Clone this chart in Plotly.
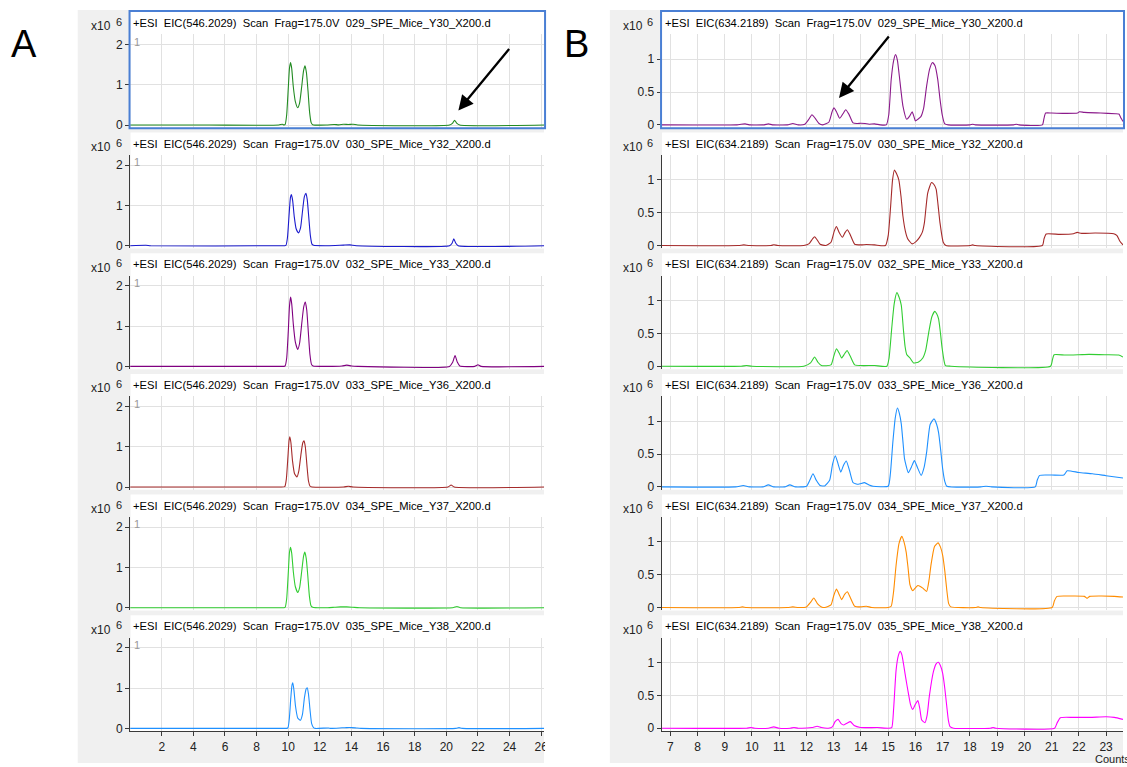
import plotly.graph_objects as go

W, H = 1127, 767
P = 121.3  # row pitch in px

FILES = ["029_SPE_Mice_Y30_X200.d", "030_SPE_Mice_Y32_X200.d", "032_SPE_Mice_Y33_X200.d",
         "033_SPE_Mice_Y36_X200.d", "034_SPE_Mice_Y37_X200.d", "035_SPE_Mice_Y38_X200.d"]
LEFT_MZ = "546.2029"
RIGHT_MZ = "634.2189"
LEFT_COLORS = ["#228b22", "#1a1acd", "#800080", "#a52a2a", "#32cd32", "#1e90ff"]
RIGHT_COLORS = ["#8b1a8b", "#a52a2a", "#32cd32", "#1e90ff", "#ff8c00", "#ff00ff"]
LEFT_XTICKS = list(range(2, 27, 2))
RIGHT_XTICKS = list(range(7, 24))
LEFT_YTICKS = [0, 1, 2]
RIGHT_YTICKS = [0, 0.5, 1]
LEFT_XRANGE = [0, 26.18]
RIGHT_XRANGE = [6.683, 23.62]
LEFT_YRANGE = [-0.069, 2.252]
RIGHT_YRANGE = [-0.045, 1.379]

# Panel A traces (time min, counts x10^6)
A1 = [(0,0),(5,0),(9.4,0),(9.62,0.02),(9.7,0.005),(9.8,0.01),(9.9,0.25),(10.0,0.9),(10.08,1.42),(10.15,1.55),(10.22,1.4),(10.32,0.95),(10.45,0.58),(10.6,0.43),(10.72,0.55),(10.85,0.95),(10.97,1.35),(11.06,1.47),(11.15,1.3),(11.25,0.85),(11.35,0.32),(11.45,0.06),(11.55,0.01),(12.4,0),(12.9,0.015),(13.2,0.005),(13.5,0.02),(13.8,0.015),(14.1,0.02),(14.4,0),(20.2,0),(20.4,0.05),(20.52,0.12),(20.65,0.05),(20.85,0),(26.2,0)]
A2 = [(0,0),(1.0,0.01),(1.3,0),(9.5,0),(9.85,0.01),(9.95,0.2),(10.05,0.75),(10.14,1.2),(10.2,1.27),(10.28,1.12),(10.38,0.72),(10.5,0.42),(10.65,0.32),(10.78,0.45),(10.9,0.85),(11.02,1.22),(11.12,1.3),(11.2,1.15),(11.3,0.7),(11.4,0.25),(11.5,0.04),(11.6,0.01),(12.5,0),(13.5,0.015),(13.9,0.02),(14.3,0),(20.2,0),(20.36,0.06),(20.47,0.17),(20.6,0.06),(20.75,0),(26.2,0)]
A3 = [(0,0),(9.5,0),(9.8,0.01),(9.9,0.2),(10.0,0.85),(10.08,1.5),(10.15,1.72),(10.22,1.55),(10.32,1.05),(10.45,0.6),(10.6,0.42),(10.72,0.58),(10.85,1.05),(10.98,1.48),(11.08,1.6),(11.17,1.4),(11.27,0.85),(11.37,0.3),(11.47,0.05),(11.57,0.01),(12.5,0),(13.4,0.01),(13.7,0.03),(14.0,0.01),(14.4,0),(20.2,0),(20.4,0.1),(20.55,0.27),(20.7,0.1),(20.85,0.01),(21.8,0),(22.0,0.04),(22.2,0),(26.2,0)]
A4 = [(0,0),(9.5,0),(9.78,0.01),(9.88,0.2),(9.98,0.75),(10.05,1.15),(10.1,1.25),(10.17,1.1),(10.27,0.65),(10.4,0.33),(10.55,0.25),(10.67,0.4),(10.8,0.8),(10.92,1.1),(11.0,1.15),(11.08,1.0),(11.18,0.55),(11.28,0.15),(11.38,0.02),(11.5,0),(13.5,0),(13.8,0.02),(14.1,0),(20.1,0),(20.3,0.05),(20.5,0),(26.2,0)]
A5 = [(0,0),(9.5,0),(9.8,0.01),(9.9,0.22),(10.0,0.85),(10.08,1.38),(10.15,1.5),(10.22,1.35),(10.32,0.9),(10.45,0.52),(10.6,0.38),(10.72,0.5),(10.85,0.9),(10.97,1.28),(11.05,1.38),(11.14,1.22),(11.24,0.78),(11.34,0.28),(11.44,0.05),(11.55,0.01),(12.5,0),(12.9,0.01),(13.3,0.02),(13.7,0.02),(14.1,0.01),(14.5,0),(20.4,0),(20.67,0.03),(20.9,0),(26.2,0)]
A6 = [(0,0),(9.6,0),(9.97,0.01),(10.07,0.25),(10.16,0.75),(10.24,1.08),(10.29,1.13),(10.36,0.95),(10.46,0.55),(10.6,0.26),(10.76,0.2),(10.9,0.35),(11.02,0.75),(11.13,0.98),(11.2,1.01),(11.28,0.85),(11.38,0.45),(11.48,0.12),(11.6,0.02),(11.7,0),(12.55,0.01),(12.7,0),(13.4,0.015),(13.7,0.02),(14.0,0.02),(14.3,0.01),(14.6,0),(20.6,0),(20.8,0.02),(21.0,0),(26.2,0)]

# Panel B traces
B1 = [(6.68,0),(9.45,0),(9.6,0.01),(9.75,0.015),(9.9,0),(10.45,0),(10.6,0.015),(10.75,0),(11.3,0),(11.5,0.02),(11.7,0),(11.94,0.01),(12.08,0.08),(12.2,0.155),(12.32,0.1),(12.46,0.02),(12.6,0),(12.82,0.04),(12.94,0.2),(13.01,0.26),(13.1,0.2),(13.22,0.1),(13.34,0.17),(13.44,0.23),(13.56,0.16),(13.71,0.03),(13.85,0.02),(14.0,0.025),(14.15,0.02),(14.3,0.01),(14.5,0.015),(14.7,0),(14.93,0),(15.02,0.15),(15.11,0.69),(15.2,0.98),(15.27,1.07),(15.34,0.98),(15.41,0.74),(15.54,0.29),(15.68,0.085),(15.8,0.14),(15.88,0.2),(15.95,0.12),(16.0,0.06),(16.1,0.09),(16.2,0.125),(16.3,0.25),(16.41,0.59),(16.52,0.85),(16.63,0.95),(16.72,0.9),(16.82,0.69),(16.9,0.4),(16.98,0.16),(17.07,0.02),(17.2,0),(18.0,0),(18.1,0.01),(18.2,0),(19.6,0),(19.7,0.01),(19.8,0),(20.66,0),(20.72,0.1),(20.78,0.18),(21.0,0.18),(21.5,0.175),(21.95,0.18),(22.02,0.2),(22.2,0.19),(22.8,0.18),(23.34,0.17),(23.47,0.165),(23.55,0.1),(23.62,0.05)]
B2 = [(6.68,0),(9.5,0),(9.7,0.01),(9.9,0),(10.7,0),(10.8,0.012),(10.95,0),(11.9,0),(12.1,0.03),(12.22,0.1),(12.3,0.135),(12.4,0.08),(12.5,0.02),(12.7,0),(12.9,0.05),(13.02,0.22),(13.1,0.29),(13.2,0.2),(13.32,0.126),(13.42,0.2),(13.5,0.24),(13.6,0.17),(13.77,0.02),(14.0,0.01),(14.2,0.015),(14.5,0.01),(14.9,0),(15.0,0.15),(15.09,0.6),(15.16,1.0),(15.23,1.15),(15.3,1.1),(15.39,1.0),(15.47,0.75),(15.54,0.45),(15.63,0.22),(15.72,0.1),(15.88,0.025),(16.02,0.06),(16.15,0.125),(16.25,0.2),(16.33,0.35),(16.45,0.8),(16.59,0.96),(16.68,0.93),(16.76,0.86),(16.83,0.62),(16.9,0.35),(17.02,0.05),(17.12,0),(18.0,0),(18.1,0.01),(18.2,0),(20.66,0),(20.72,0.1),(20.8,0.175),(21.3,0.17),(21.8,0.18),(21.94,0.2),(22.1,0.185),(22.6,0.19),(23.28,0.18),(23.4,0.15),(23.5,0.07),(23.62,0.01)]
B3 = [(6.68,0),(9.6,0),(9.8,0.01),(10.0,0),(11.9,0),(12.15,0.05),(12.3,0.14),(12.42,0.06),(12.55,0.01),(12.9,0.02),(13.0,0.15),(13.1,0.265),(13.2,0.2),(13.29,0.125),(13.4,0.19),(13.49,0.24),(13.6,0.16),(13.77,0.02),(14.0,0.01),(14.5,0.01),(14.95,0),(15.03,0.12),(15.13,0.58),(15.22,0.95),(15.32,1.12),(15.4,1.05),(15.48,0.93),(15.56,0.55),(15.62,0.3),(15.68,0.18),(15.8,0.125),(15.93,0.05),(16.1,0.06),(16.27,0.125),(16.38,0.25),(16.49,0.52),(16.6,0.75),(16.71,0.835),(16.78,0.8),(16.85,0.72),(16.92,0.5),(16.98,0.275),(17.1,0.01),(17.3,0),(20.96,0),(21.03,0.1),(21.09,0.175),(21.5,0.17),(22.0,0.175),(22.37,0.18),(23.0,0.175),(23.46,0.17),(23.62,0.14)]
B4 = [(6.68,0),(9.4,0),(9.68,0.02),(9.9,0),(10.4,0),(10.6,0.03),(10.8,0),(11.2,0),(11.39,0.03),(11.6,0),(12.0,0.01),(12.12,0.1),(12.24,0.2),(12.36,0.1),(12.5,0.02),(12.67,0.015),(12.85,0.1),(12.96,0.35),(13.06,0.475),(13.16,0.35),(13.26,0.225),(13.36,0.33),(13.46,0.395),(13.58,0.25),(13.71,0.065),(13.9,0.04),(14.13,0.065),(14.3,0.03),(14.44,0.01),(15.0,0.01),(15.08,0.2),(15.17,0.675),(15.26,1.05),(15.34,1.2),(15.41,1.12),(15.48,0.96),(15.55,0.65),(15.6,0.425),(15.74,0.215),(15.85,0.3),(15.96,0.4),(16.07,0.3),(16.21,0.175),(16.32,0.3),(16.41,0.525),(16.54,0.95),(16.68,1.035),(16.78,0.95),(16.85,0.825),(16.93,0.55),(17.0,0.275),(17.08,0.08),(17.15,0.01),(18.4,0),(18.59,0.01),(18.8,0),(20.4,0),(20.47,0.1),(20.56,0.175),(21.0,0.18),(21.45,0.18),(21.57,0.245),(22.0,0.22),(22.5,0.2),(23.0,0.17),(23.62,0.135)]
B5 = [(6.68,0),(9.5,0),(9.65,0.01),(9.8,0),(11.3,0),(11.5,0.01),(11.7,0),(12.0,0.01),(12.15,0.08),(12.27,0.145),(12.4,0.06),(12.55,0.01),(12.67,0),(12.9,0.04),(13.0,0.18),(13.1,0.28),(13.2,0.2),(13.29,0.12),(13.4,0.2),(13.5,0.24),(13.6,0.16),(13.77,0.02),(14.0,0.01),(14.2,0.02),(14.4,0),(15.0,0),(15.11,0.02),(15.2,0.25),(15.29,0.645),(15.4,0.98),(15.5,1.085),(15.58,1.0),(15.66,0.845),(15.73,0.6),(15.8,0.345),(15.9,0.255),(16.0,0.3),(16.09,0.335),(16.18,0.32),(16.27,0.295),(16.41,0.245),(16.5,0.42),(16.57,0.645),(16.7,0.93),(16.83,0.985),(16.92,0.92),(17.0,0.795),(17.08,0.55),(17.15,0.27),(17.22,0.06),(17.3,0.01),(18.2,0),(18.3,0.01),(18.4,0),(21.02,0),(21.1,0.1),(21.2,0.17),(21.7,0.175),(22.2,0.17),(22.3,0.14),(22.4,0.17),(22.8,0.175),(23.3,0.17),(23.62,0.16)]
B6 = [(6.68,0),(9.8,0),(9.95,0.01),(10.1,0),(10.6,0),(10.8,0.02),(11.0,0),(11.4,0),(11.54,0.01),(11.7,0),(12.2,0.01),(12.39,0.03),(12.55,0.01),(12.8,0),(12.95,0.02),(13.05,0.1),(13.16,0.135),(13.27,0.07),(13.37,0.05),(13.5,0.08),(13.61,0.1),(13.75,0.04),(13.98,0.01),(14.6,0.01),(15.0,0),(15.13,0.01),(15.2,0.3),(15.29,0.885),(15.37,1.1),(15.44,1.17),(15.5,1.12),(15.56,0.985),(15.65,0.75),(15.74,0.535),(15.82,0.36),(15.9,0.285),(15.98,0.35),(16.09,0.42),(16.16,0.3),(16.23,0.125),(16.35,0.085),(16.43,0.2),(16.51,0.485),(16.66,0.86),(16.76,0.98),(16.84,1.005),(16.92,0.95),(17.0,0.835),(17.08,0.6),(17.15,0.335),(17.21,0.12),(17.27,0.025),(17.4,0),(18.75,0),(18.85,0.01),(18.95,0),(21.11,0),(21.2,0.08),(21.32,0.16),(21.8,0.165),(22.4,0.165),(23.0,0.175),(23.3,0.165),(23.62,0.135)]

LEFT_TRACES = [A1, A2, A3, A4, A5, A6]
RIGHT_TRACES = [B1, B2, B3, B4, B5, B6]

FONT = "Liberation Sans, Arial, sans-serif"
GRID = "#e1e1e1"
AXC = "#3a3a3a"
PANEL_BG = "#f0f0f0"
SEL = "#4a7fd4"


def fx(px):
    return px / W


def fy(py):
    return 1 - py / H


fig = go.Figure()
layout = dict(width=W, height=H, margin=dict(l=0, r=0, t=0, b=0), autosize=False,
              paper_bgcolor="white", plot_bgcolor="rgba(0,0,0,0)", showlegend=False,
              hovermode=False, font=dict(family=FONT, size=12, color="#222"))
shapes = []
annotations = []

columns = [
    dict(x0=130.6, x1=546, xr=LEFT_XRANGE, yr=LEFT_YRANGE, xt=LEFT_XTICKS, yt=LEFT_YTICKS,
         traces=LEFT_TRACES, colors=LEFT_COLORS, mz=LEFT_MZ, panel=(78, 546), letter=("A", 24)),
    dict(x0=664, x1=1127, xr=RIGHT_XRANGE, yr=RIGHT_YRANGE, xt=RIGHT_XTICKS, yt=RIGHT_YTICKS,
         traces=RIGHT_TRACES, colors=RIGHT_COLORS, mz=RIGHT_MZ, panel=(612, 1127), letter=("B", 579)),
]

for c, col in enumerate(columns):
    shapes.append(dict(type="rect", xref="paper", yref="paper", x0=fx(col["panel"][0]), x1=fx(col["panel"][1]),
                       y0=fy(767), y1=fy(10), fillcolor=PANEL_BG, line=dict(width=0), layer="below"))
    annotations.append(dict(text=col["letter"][0], x=fx(col["letter"][1]), y=fy(44), xref="paper", yref="paper",
                            showarrow=False, xanchor="center", yanchor="middle",
                            font=dict(size=38, color="black", family=FONT)))
    for i in range(6):
        n = c * 6 + i + 1
        top = 34.5 + i * P
        bot = 128.5 + i * P
        last = (i == 5)
        xa = dict(domain=[fx(col["x0"]), fx(col["x1"])], range=col["xr"], anchor=f"y{n}",
                  tickmode="array", tickvals=col["xt"], showgrid=True, gridcolor=GRID, gridwidth=1,
                  zeroline=False, showline=last, linecolor=AXC, linewidth=1,
                  ticks="outside" if last else "", ticklen=4, tickcolor=AXC,
                  showticklabels=last, tickfont=dict(size=12, color="#222", family=FONT), fixedrange=True)
        ya = dict(domain=[fy(bot), fy(top)], range=col["yr"], anchor=f"x{n}",
                  tickmode="array", tickvals=col["yt"], showgrid=True, gridcolor=GRID, gridwidth=1,
                  zeroline=False, showline=True, linecolor=AXC, linewidth=1,
                  ticks="outside", ticklen=4, tickcolor=AXC,
                  tickfont=dict(size=12, color="#222", family=FONT), fixedrange=True)
        layout["xaxis" if n == 1 else f"xaxis{n}"] = xa
        layout["yaxis" if n == 1 else f"yaxis{n}"] = ya
        pts = col["traces"][i]
        xs = [p[0] for p in pts]
        ys = [p[1] for p in pts]
        fig.add_trace(go.Scatter(x=xs, y=ys, mode="lines", xaxis="x" if n == 1 else f"x{n}",
                                 yaxis="y" if n == 1 else f"y{n}",
                                 line=dict(color=col["colors"][i], width=1.1, shape="spline", smoothing=0.5)))
        # white header strip + white plot area
        shapes.append(dict(type="rect", xref="paper", yref="paper", x0=fx(col["x0"] + 0.4), x1=fx(col["x1"]),
                           y0=fy(bot), y1=fy(12 + i * P), fillcolor="white", line=dict(width=0), layer="below"))
        hdr = f"+ESI\u00a0 EIC({col['mz']})\u00a0 Scan\u00a0 Frag=175.0V\u00a0 {FILES[i]}"
        annotations.append(dict(text=hdr, x=fx(col["x0"] + 1), y=fy(23 + i * P), xref="paper", yref="paper",
                                showarrow=False, xanchor="left", yanchor="middle",
                                font=dict(size=11.2, color="black", family=FONT)))
        annotations.append(dict(text="x10", x=fx(col["x0"] - 17), y=fy(26.5 + i * P), xref="paper", yref="paper",
                                showarrow=False, xanchor="right", yanchor="middle",
                                font=dict(size=12, color="#222", family=FONT)))
        annotations.append(dict(text="6", x=fx(col["x0"] - 11.5), y=fy(22 + i * P), xref="paper", yref="paper",
                                showarrow=False, xanchor="center", yanchor="middle",
                                font=dict(size=11, color="#222", family=FONT)))
        if c == 0:
            annotations.append(dict(text="1", x=fx(col["x0"] + 2), y=fy(42 + i * P), xref="paper", yref="paper",
                                    showarrow=False, xanchor="left", yanchor="middle",
                                    font=dict(size=11, color="#999", family=FONT)))
    # selection border around first row
    shapes.append(dict(type="rect", xref="paper", yref="paper", x0=fx(col["x0"] - 0.6), x1=fx(col["x1"] + 1),
                       y0=fy(129), y1=fy(11), line=dict(color=SEL, width=2), fillcolor="rgba(0,0,0,0)",
                       layer="above"))

# cover for clipped last tick label of panel A
shapes.append(dict(type="rect", xref="paper", yref="paper", x0=fx(547), x1=fx(611), y0=fy(767), y1=fy(737),
                   fillcolor="white", line=dict(width=0), layer="above"))

# arrows
annotations.append(dict(text="", x=fx(460), y=fy(111), xref="paper", yref="paper", showarrow=True,
                        ax=52, ay=-63, arrowhead=2, arrowsize=1.3, arrowwidth=2.3, arrowcolor="black", standoff=0))
annotations.append(dict(text="", x=fx(842), y=fy(98.5), xref="paper", yref="paper", showarrow=True,
                        ax=51, ay=-63, arrowhead=2, arrowsize=1.3, arrowwidth=2.3, arrowcolor="black", standoff=0))

annotations.append(dict(text="Counts vs. Acquisition Time (min)", x=fx(1097), y=fy(762.6), xref="paper", yref="paper",
                        showarrow=False, xanchor="left", yanchor="middle",
                        font=dict(size=11, color="#222", family=FONT)))

layout["shapes"] = shapes
layout["annotations"] = annotations
fig.update_layout(**layout)
fig.write_html("out.html")
